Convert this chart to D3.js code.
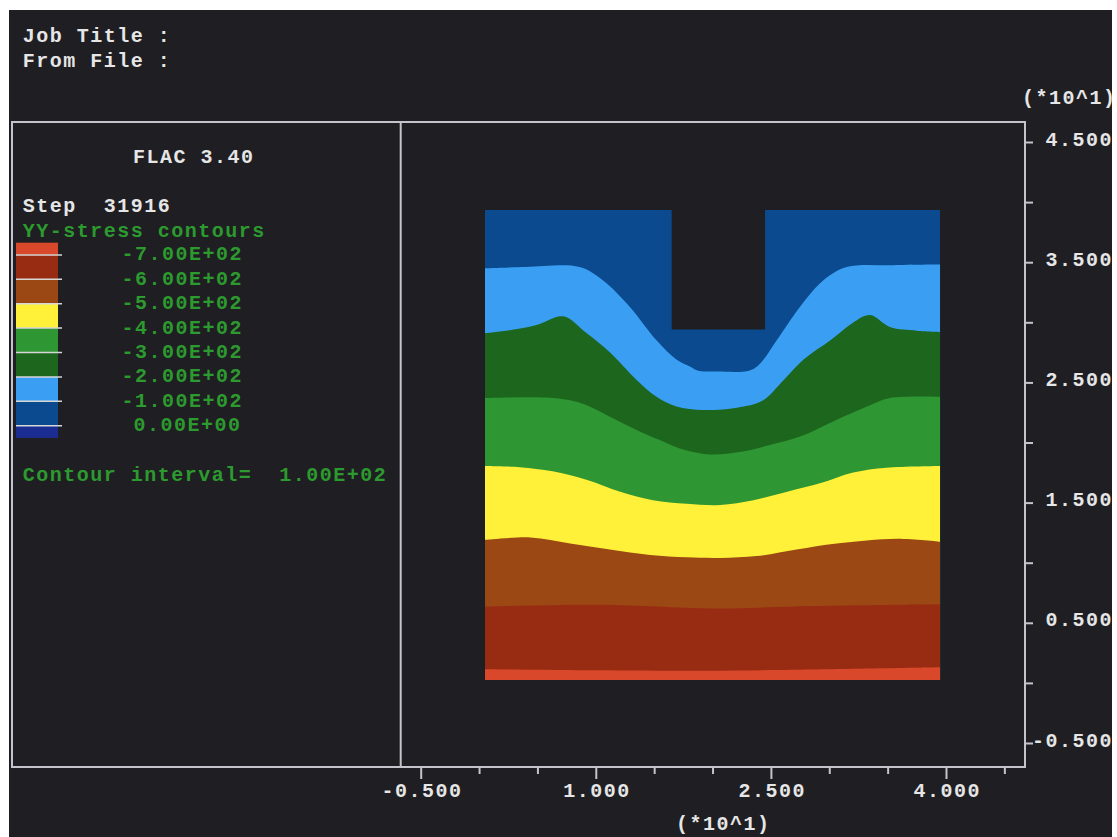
<!DOCTYPE html>
<html>
<head>
<meta charset="utf-8">
<script src="https://cdn.jsdelivr.net/npm/d3@7"></script>
<style>
  html, body { margin: 0; padding: 0; background: #ffffff; }
  svg { display: block; }
  .mono { font-family: "Liberation Mono", "DejaVu Sans Mono", monospace; font-weight: bold; font-size: 20px; letter-spacing: 1.5px; white-space: pre; }
</style>
</head>
<body>
<svg id="chart" width="1117" height="837"></svg>
<script>
// ---- Data (model coordinates in metres; axes are labelled in units of 10 m) ----
const contourLevels = [-700, -600, -500, -400, -300, -200, -100, 0];
const levelLabels = ["-7.00E+02", "-6.00E+02", "-5.00E+02", "-4.00E+02", "-3.00E+02", "-2.00E+02", "-1.00E+02", "0.00E+00"];
// Band colours, lowest stress band first (below -700) up to above 0
const bandColors = ["#d9482a", "#982c12", "#9c4814", "#fff03a", "#2e9632", "#1d661d", "#3a9ff2", "#0b4a8e", "#1b2d92"];

const xTickValues = [-5, 0, 5, 10, 15, 20, 25, 30, 35, 40, 45];
const xLabelled = [-5, 10, 25, 40];
const yTickValues = [-5, 0, 5, 10, 15, 20, 25, 30, 35, 40, 45];
const yLabelled = [-5, 5, 15, 25, 35, 45];

// Extent of the contoured grid and the excavated trench
const gridX = [0.5, 39.5];
const gridY = [0.25, 39.35];
const trenchX = [16.5, 24.5];
const trenchBottom = 29.4;

// Contour lines, [x, y] pairs
const c0100 = [[0.5,34.5],[4.0,34.6],[8.6,34.6],[10.6,33.5],[12.9,31.3],[15.2,28.5],[16.9,26.9],[18.1,26.3],[18.7,26.0],[20.4,25.9],[23.2,26.0],[24.1,26.6],[25.5,28.5],[27.5,31.3],[29.5,33.5],[31.5,34.6],[35.5,34.75],[39.5,34.8]];
const c0200 = [[0.5,29.1],[3.0,29.4],[5.0,29.8],[7.2,30.5],[9.2,29.1],[11.2,27.5],[13.5,25.2],[15.2,23.8],[16.9,23.0],[19.2,22.7],[22.1,22.9],[24.3,23.5],[26.0,25.1],[27.8,26.9],[30.1,28.5],[32.0,29.95],[33.5,30.6],[35.2,29.6],[37.5,29.3],[39.5,29.2]];
const c0300 = [[0.5,23.7],[6.3,23.7],[8.65,23.3],[11.2,22.15],[13.8,20.9],[15.5,20.2],[17.2,19.5],[19.8,19.0],[22.6,19.25],[24.9,19.8],[27.5,20.5],[30.65,21.9],[33.5,23.1],[35.2,23.7],[39.5,23.8]];
const c0400 = [[0.5,18.05],[3.5,17.95],[6.3,17.6],[9.2,16.9],[12.1,15.9],[14.9,15.2],[17.8,14.9],[20.65,14.8],[23.5,15.2],[26.4,15.9],[29.2,16.6],[32.05,17.5],[34.9,17.9],[39.5,18.05]];
const c0500 = [[0.5,11.9],[4.4,12.1],[7.8,11.6],[11.2,11.1],[14.65,10.65],[17.8,10.45],[20.65,10.4],[23.8,10.55],[27.2,11.1],[30.65,11.6],[35.8,12.0],[39.5,11.75]];
const c0600 = [[0.5,6.35],[10.5,6.5],[20.0,6.2],[28.5,6.4],[39.5,6.55]];
const c0700 = [[0.5,1.14],[20.0,1.02],[39.5,1.3]];

// ---- Drawing ----
const svg = d3.select("#chart");
const BG = "#1f1f23";
const LINE = "#c4c4cc";
const WHITE = "#e6e6e6";
const GREEN = "#2c9a2e";

svg.append("rect").attr("x", 9).attr("y", 10).attr("width", 1103).attr("height", 827).attr("fill", BG);

const x = d3.scaleLinear().domain([-5, 40]).range([420.7, 946]);
const y = d3.scaleLinear().domain([-5, 45]).range([743, 142]);

// Contour bands: fill the grid with the top band, then paint each lower band beneath its contour
svg.append("clipPath").attr("id", "grid-clip")
  .append("rect")
  .attr("x", x(gridX[0])).attr("y", y(gridY[1]))
  .attr("width", x(gridX[1]) - x(gridX[0]))
  .attr("height", y(gridY[0]) - y(gridY[1]));

const bands = svg.append("g").attr("clip-path", "url(#grid-clip)");
bands.append("rect")
  .attr("x", x(gridX[0])).attr("y", y(gridY[1]))
  .attr("width", x(gridX[1]) - x(gridX[0]))
  .attr("height", y(gridY[0]) - y(gridY[1]))
  .attr("fill", bandColors[7]);

const contours = [c0100, c0200, c0300, c0400, c0500, c0600, c0700];
const area = d3.area()
  .x(d => x(d[0]))
  .y0(y(gridY[0]) + 2)
  .y1(d => y(d[1]))
  .curve(d3.curveCatmullRom.alpha(0.5));

contours.forEach((c, i) => {
  bands.append("path")
    .datum(c)
    .attr("d", area)
    .attr("fill", bandColors[6 - i]);
});

// Excavated trench
bands.append("rect")
  .attr("x", x(trenchX[0])).attr("y", y(gridY[1]) - 2)
  .attr("width", x(trenchX[1]) - x(trenchX[0]))
  .attr("height", y(trenchBottom) - y(gridY[1]) + 2)
  .attr("fill", BG);

// Frame and divider
const frame = svg.append("g").attr("fill", "none").attr("stroke", LINE).attr("stroke-width", 2);
frame.append("rect").attr("x", 12).attr("y", 122).attr("width", 1013).attr("height", 645);
frame.append("line").attr("x1", 400.7).attr("x2", 400.7).attr("y1", 122).attr("y2", 767);

// Axes
const fmt = v => (v / 10).toFixed(3);
const xAxis = d3.axisBottom(x)
  .tickValues(xTickValues)
  .tickSize(7)
  .tickFormat(d => xLabelled.includes(d) ? fmt(d) : "");
const gx = svg.append("g").attr("transform", "translate(0,767)").call(xAxis);
gx.select(".domain").remove();
gx.attr("font-family", null).attr("font-size", null);
gx.selectAll(".tick line").attr("stroke", LINE).attr("stroke-width", 2)
  .attr("y2", d => xLabelled.includes(d) ? 12 : 7);
gx.selectAll(".tick text")
  .attr("class", "mono").attr("fill", WHITE)
  .attr("y", 30).attr("dy", 0).attr("dx", 0.75);

const yAxis = d3.axisRight(y)
  .tickValues(yTickValues)
  .tickSize(8)
  .tickFormat(d => yLabelled.includes(d) ? fmt(d) : "");
const gy = svg.append("g").attr("transform", "translate(1025,0)").call(yAxis);
gy.select(".domain").remove();
gy.attr("font-family", null).attr("font-size", null);
gy.selectAll(".tick line").attr("stroke", LINE).attr("stroke-width", 2);
gy.selectAll(".tick text")
  .attr("class", "mono").attr("fill", WHITE)
  .attr("text-anchor", "end")
  .attr("x", 88).attr("dy", 3);

// Text
const txt = (s, tx, ty, fill, anchor) =>
  svg.append("text").attr("class", "mono").attr("x", tx).attr("y", ty)
    .attr("fill", fill).attr("text-anchor", anchor || "start").text(s);

txt("Job Title :", 22.7, 41.5, WHITE);
txt("From File :", 22.7, 66.5, WHITE);
txt("(*10^1)", 1022, 103.5, WHITE);
txt("(*10^1)", 676, 829.5, WHITE);
txt("FLAC 3.40", 133, 163, WHITE);
txt("Step  31916", 22.7, 212, WHITE);
txt("YY-stress contours", 22.7, 236.5, GREEN);
txt("Contour interval=  1.00E+02", 22.7, 480.5, GREEN);

// Legend: colour swatches separated at each contour level
const legendTop = 242.7, step = 24.4, swX = 16, swW = 42;
const sepY = i => legendTop + step / 2 + i * step;   // i = 0 at -700
const legend = svg.append("g");
bandColors.forEach((c, j) => {
  // j = 0 lowest band (below -700) is drawn at the top of the legend
  const top = j === 0 ? legendTop : sepY(j - 1);
  const bot = j === bandColors.length - 1 ? sepY(j - 1) + step / 2 : sepY(j);
  legend.append("rect").attr("x", swX).attr("y", top)
    .attr("width", swW).attr("height", bot - top).attr("fill", c);
});
contourLevels.forEach((lv, i) => {
  legend.append("line")
    .attr("x1", swX).attr("x2", swX + swW + 4)
    .attr("y1", sepY(i)).attr("y2", sepY(i))
    .attr("stroke", "#d6d6d6").attr("stroke-width", 1.5);
  const lab = levelLabels[i];
  txt(lab, 121.5 + (9 - lab.length) * 12, sepY(i) + 5.5, GREEN);
});
</script>
</body>
</html>
